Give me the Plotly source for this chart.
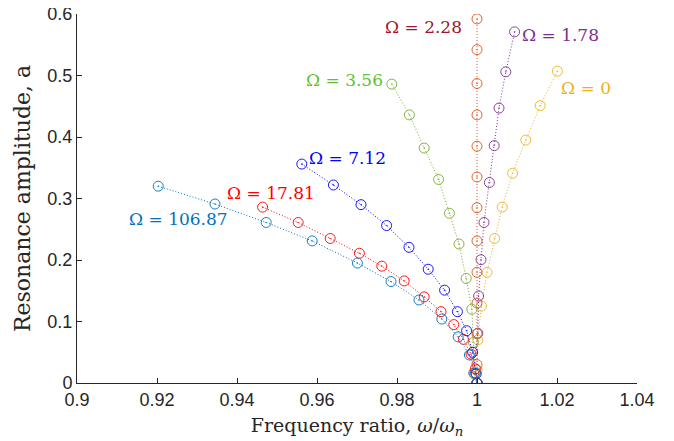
import plotly.graph_objects as go

# Series: Omega values and backbone points (frequency ratio, amplitude)
omega_labels = ["Ω = 0", "Ω = 1.78", "Ω = 2.28", "Ω = 3.56", "Ω = 7.12", "Ω = 17.81", "Ω = 106.87"]

freq_0 = [1.0201, 1.0158, 1.0122, 1.0089, 1.0063, 1.0044, 1.0025, 1.0011, 1.0002, 1.0000, 1.0]
amp_0 = [0.507, 0.451, 0.395, 0.341, 0.286, 0.235, 0.180, 0.125, 0.070, 0.021, 0.0]

freq_178 = [1.0094, 1.0072, 1.0055, 1.0043, 1.0031, 1.00175, 1.0010, 1.0004, 1.0002, 0.9992, 1.0]
amp_178 = [0.571, 0.506, 0.447, 0.386, 0.326, 0.261, 0.2005, 0.1415, 0.081, 0.016, 0.0]

freq_228 = [1.0, 1.0, 1.0, 1.0, 1.0, 1.0, 1.0, 1.0, 1.0, 1.0, 1.0, 1.0, 1.0]
amp_228 = [0.592, 0.542, 0.487, 0.436, 0.385, 0.335, 0.285, 0.231, 0.180, 0.130, 0.080, 0.030, 0.0]

freq_356 = [0.9787, 0.9831, 0.9868, 0.9904, 0.9931, 0.9955, 0.9973, 0.9987, 0.9991, 0.9993, 1.0]
amp_356 = [0.486, 0.436, 0.382, 0.331, 0.276, 0.226, 0.170, 0.120, 0.066, 0.015, 0.0]

freq_712 = [0.9562, 0.9641, 0.9710, 0.9774, 0.9830, 0.9878, 0.9919, 0.9951, 0.9974, 0.9989, 0.9998, 1.0]
amp_712 = [0.356, 0.322, 0.290, 0.256, 0.2206, 0.185, 0.151, 0.116, 0.085, 0.050, 0.015, 0.0]

freq_1781 = [0.9464, 0.9553, 0.9633, 0.9706, 0.9762, 0.9818, 0.9868, 0.9910, 0.9942, 0.9966, 0.9985, 0.9996, 1.0]
amp_1781 = [0.286, 0.261, 0.235, 0.211, 0.190, 0.166, 0.140, 0.116, 0.095, 0.071, 0.047, 0.023, 0.0]

freq_10687 = [0.9203, 0.9345, 0.9473, 0.9588, 0.9701, 0.9785, 0.9855, 0.9912, 0.9953, 0.9981, 0.9996, 1.0]
amp_10687 = [0.320, 0.291, 0.261, 0.231, 0.195, 0.165, 0.135, 0.104, 0.075, 0.0455, 0.016, 0.0]

x_ticks = [0.9, 0.92, 0.94, 0.96, 0.98, 1.0, 1.02, 1.04]
x_tick_text = ["0.9", "0.92", "0.94", "0.96", "0.98", "1", "1.02", "1.04"]
y_ticks = [0, 0.1, 0.2, 0.3, 0.4, 0.5, 0.6]
y_tick_text = ["0", "0.1", "0.2", "0.3", "0.4", "0.5", "0.6"]

series = [
    (freq_0, amp_0, "#EDB120", "#EDB120", 1.0272, 0.480),
    (freq_178, amp_178, "#7E2F8E", "#7E2F8E", 1.0208, 0.566),
    (freq_228, amp_228, "#D95319", "#A2142F", 0.9865, 0.579),
    (freq_356, amp_356, "#77AC30", "#5CC234", 0.9668, 0.493),
    (freq_712, amp_712, "#0000FF", "#0000FF", 0.9675, 0.366),
    (freq_1781, amp_1781, "#FF0000", "#FF0000", 0.9485, 0.309),
    (freq_10687, amp_10687, "#0072BD", "#0072BD", 0.9253, 0.267),
]

SERIF = "DejaVu Serif, serif"

fig = go.Figure()
for (fx, ay, col, lcol, tx, ty), lab in zip(series, omega_labels):
    fig.add_trace(go.Scatter(
        x=fx, y=ay, mode="lines+markers",
        line=dict(color=col, width=1, dash="1px,2px"),
        marker=dict(symbol="circle-open-dot", size=10, color=col, line=dict(color=col, width=0.9)),
        showlegend=False, name=lab,
    ))
    fig.add_annotation(x=tx, y=ty, xref="x", yref="y", text=lab, showarrow=False,
                       font=dict(family=SERIF, size=17, color=lcol))

axis_common = dict(showline=True, linecolor="#262626", linewidth=1, ticks="inside", ticklen=5,
                   tickcolor="#262626", showgrid=False, zeroline=False, automargin=False,
                   ticklabeloverflow="allow",
                   tickfont=dict(family="Liberation Sans, Arial, sans-serif", size=18, color="#262626"))

fig.update_xaxes(range=[0.9, 1.04], tickvals=x_ticks, ticktext=x_tick_text,
                 title=dict(text="Frequency ratio, <i>ω</i>/<i>ω</i><sub><i>n</i></sub>", standoff=10,
                            font=dict(family=SERIF, size=19, color="#262626")),
                 **axis_common)
fig.update_yaxes(range=[0, 0.6], tickvals=y_ticks, ticktext=y_tick_text,
                 title=dict(text="Resonance amplitude, a", standoff=10,
                            font=dict(family=SERIF, size=22, color="#262626")),
                 **axis_common)

# the page body adds an 8px offset; margins compensate so the plot area lands where the reference has it
fig.update_layout(width=674, height=441, margin=dict(l=69, r=45, t=6, b=66),
                  plot_bgcolor="white", paper_bgcolor="white")

fig.write_html("out.html")
